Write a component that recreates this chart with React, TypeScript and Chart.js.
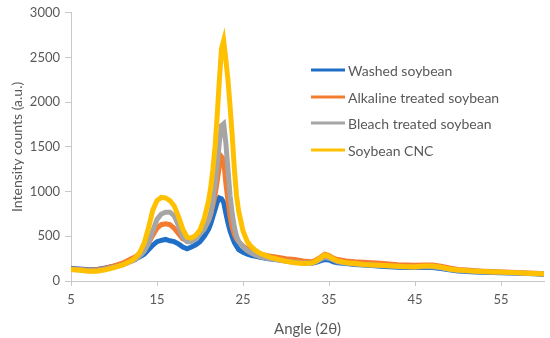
import React, { useEffect, useRef } from "react";
import { Chart, registerables } from "chart.js";

Chart.register(...registerables);

const angles = [
  5, 6, 7, 8, 9, 10, 11, 12,
  12.5, 13, 13.5, 14, 14.5, 15, 15.5, 16, 16.5, 17, 17.5, 18, 18.5, 19, 19.5, 20, 20.5, 21,
  21.25, 21.5, 21.75, 22, 22.25, 22.5, 22.75, 23, 23.25, 23.5, 23.75, 24, 24.25, 24.5,
  25, 25.5, 26, 26.5,
  27, 28, 29, 30, 31, 32, 33,
  33.5, 34, 34.5, 35, 35.5,
  36, 37, 38, 39, 40, 41, 42, 43, 44, 45, 46, 47, 48, 49, 50, 51, 52, 53, 54, 55, 56, 57, 58, 59, 60,
];

const washed = [
  140, 135, 125, 130, 145, 165, 190, 225,
  245, 270, 300, 350, 400, 440, 455, 465, 450, 440, 415, 380, 360, 380, 405, 440, 500, 580,
  640, 720, 800, 880, 930, 920, 880, 760, 650, 560, 490, 430, 390, 350,
  320, 300, 285, 275,
  265, 250, 240, 230, 220, 210, 200,
  210, 225, 240, 235, 215,
  205, 195, 185, 178, 172, 165, 160, 155, 150, 150, 152, 150, 140, 125, 112, 106, 102, 98, 95, 92, 89, 86, 84, 80, 74,
];

const alkaline = [
  135, 128, 120, 125, 140, 170, 200, 250,
  270, 310, 350, 420, 510, 590, 630, 640, 630, 590, 530, 470, 450, 460, 490, 530, 590, 680,
  750, 850, 960, 1120, 1280, 1390, 1360, 1100, 900, 720, 600, 520, 470, 440,
  390, 360, 335, 315,
  300, 280, 265, 250, 240, 225, 215,
  235, 265, 300, 285, 255,
  240, 225, 215, 210, 205, 198, 190, 182, 178, 175, 180, 178, 165, 145, 130, 122, 116, 110, 106, 102, 98, 95, 90, 86, 82,
];

const bleach = [
  130, 125, 115, 118, 132, 155, 180, 220,
  240, 280, 330, 420, 560, 690, 750, 770, 770, 730, 620, 490, 440, 440, 470, 530, 580, 680,
  760, 900, 1080, 1300, 1550, 1740, 1760, 1550, 1250, 950, 750, 600, 500, 440,
  380, 340, 310, 290,
  270, 250, 235, 220, 210, 200, 200,
  215, 240, 265, 255, 235,
  215, 200, 190, 182, 178, 172, 168, 162, 158, 155, 160, 158, 148, 130, 118, 112, 108, 104, 100, 97, 94, 90, 86, 82, 78,
];

const cnc = [
  130, 120, 110, 110, 125, 150, 180, 225,
  260, 320, 420, 590, 790, 900, 935, 930, 900, 840, 720, 580, 490, 480, 510, 570, 700, 900,
  1050, 1250, 1500, 1850, 2250, 2600, 2690, 2480, 2250, 1950, 1620, 1250, 950, 780,
  560, 440, 380, 340,
  310, 270, 245, 220, 205, 195, 200,
  225, 260, 290, 275, 245,
  225, 205, 195, 185, 180, 175, 170, 165, 160, 160, 168, 168, 155, 135, 122, 116, 110, 105, 102, 100, 96, 92, 88, 84, 78,
];

const seriesNames = ["Washed soybean", "Alkaline treated soybean", "Bleach treated soybean", "Soybean CNC"];
const seriesColors = ["#1F6FC8", "#F47C30", "#A5A5A5", "#FFC000"];
const seriesValues = [washed, alkaline, bleach, cnc];
const xTicks = [5, 15, 25, 35, 45, 55];

const FONT = "Lato, 'Open Sans', sans-serif";
const TEXT = "#595959";

const legendPlugin = {
  id: "insideLegend",
  afterDraw(chart: any) {
    const ctx = chart.ctx;
    ctx.save();
    const ys = [70, 97, 123, 150];
    seriesNames.forEach((name, i) => {
      ctx.strokeStyle = seriesColors[i];
      ctx.lineWidth = 3;
      ctx.beginPath();
      ctx.moveTo(311, ys[i]);
      ctx.lineTo(345, ys[i]);
      ctx.stroke();
      ctx.fillStyle = TEXT;
      ctx.font = `14px ${FONT}`;
      ctx.textBaseline = "middle";
      ctx.textAlign = "left";
      ctx.fillText(name, 348, ys[i] + 1);
    });
    ctx.restore();
  },
};

export default function App() {
  const ref = useRef<HTMLCanvasElement>(null);
  useEffect(() => {
    document.body.style.margin = "0";
    const chart = new Chart(ref.current as HTMLCanvasElement, {
      type: "line",
      data: {
        datasets: seriesNames.map((name, i) => ({
          label: name,
          data: angles.map((a, j) => ({ x: a, y: seriesValues[i][j] })),
          borderColor: seriesColors[i],
          backgroundColor: seriesColors[i],
          borderWidth: 5,
          pointRadius: 0,
          tension: 0,
          order: 4 - i,
        })),
      },
      options: {
        responsive: false,
        animation: false,
        layout: { padding: { top: 9, right: 6, left: 0, bottom: 0 } },
        plugins: { legend: { display: false }, tooltip: { enabled: false } },
        scales: {
          x: {
            type: "linear",
            min: 5,
            max: 60,
            afterBuildTicks: (s: any) => {
              s.ticks = xTicks.map((v) => ({ value: v }));
            },
            afterFit: (s: any) => {
              s.height = 57;
            },
            grid: { drawOnChartArea: false, drawTicks: true, tickLength: 5, color: "#C8C8C8" },
            border: { color: "#C8C8C8", width: 1 },
            ticks: { color: TEXT, font: { family: FONT, size: 13 }, padding: 6, maxRotation: 0, callback: (v: any) => String(v) },
            title: { display: true, text: "Angle (2θ)", color: TEXT, font: { family: FONT, size: 15 }, padding: { top: 2, bottom: 0 } },
          },
          y: {
            min: 0,
            max: 3000,
            ticks: { stepSize: 500, color: TEXT, font: { family: FONT, size: 13 }, padding: 5, callback: (v: any) => String(v) },
            afterFit: (s: any) => {
              s.width = 71;
            },
            grid: { drawOnChartArea: false, drawTicks: true, tickLength: 6, color: "#C8C8C8" },
            border: { color: "#C8C8C8", width: 1 },
            title: { display: true, text: "Intensity counts (a.u.)", color: TEXT, font: { family: FONT, size: 14 }, padding: { top: 9, bottom: 0 } },
          },
        },
      },
      plugins: [legendPlugin],
    } as any);
    return () => chart.destroy();
  }, []);
  return (
    <div style={{ position: "absolute", left: 0, top: 0, width: 550, height: 338 }}>
      <canvas ref={ref} width={550} height={338} style={{ width: 550, height: 338 }} />
    </div>
  );
}
